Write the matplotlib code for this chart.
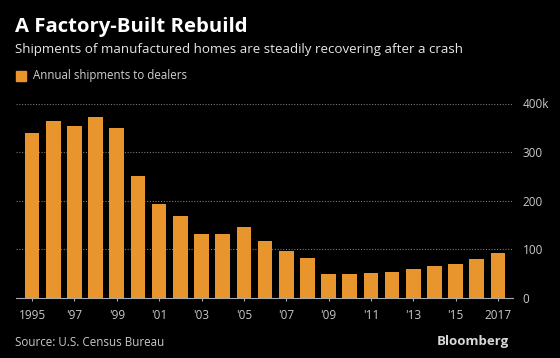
import matplotlib
matplotlib.use("Agg")
import matplotlib.pyplot as plt
from matplotlib.patches import Rectangle

years = list(range(1995, 2018))
shipments = [340, 363, 354, 373, 349, 251, 193, 169, 131, 131, 147, 118,
             96, 82, 50, 50, 52, 53, 59, 65, 70, 81, 93]
tick_years = [1995, 1997, 1999, 2001, 2003, 2005, 2007, 2009, 2011, 2013, 2015, 2017]
tick_labels = ["1995", "'97", "'99", "'01", "'03", "'05", "'07", "'09", "'11", "'13", "'15", "2017"]
y_ticks = [0, 100, 200, 300, 400]
y_labels = ["0", "100", "200", "300", "400k"]

plt.rcParams['font.family'] = ['Open Sans', 'DejaVu Sans']
BG = "black"
BAR = "#E8952E"

fig = plt.figure(figsize=(5.6, 3.58), dpi=100, facecolor=BG)
W, H = 560, 358
left, right, bottom, top = 16, 513, 298, 103.5
ax = fig.add_axes([left / W, 1 - bottom / H, (right - left) / W, (bottom - top) / H])
ax.set_facecolor(BG)

x = [y - 1995 for y in years]
ax.bar(x, shipments, width=0.69, color=BAR, zorder=2)
ax.set_xlim(-0.76, 22.71)
ax.set_ylim(0, 400)

ax.yaxis.tick_right()
ax.set_yticks(y_ticks)
ax.set_yticklabels(y_labels)
ax.tick_params(axis='y', length=0, pad=7, labelsize=8.5, labelcolor="#c8c8c8")
for v in y_ticks[1:]:
    ax.axhline(v, color="#777777", lw=0.8, ls=(0, (1, 1.5)), zorder=1)

ax.set_xticks([t - 1995 for t in tick_years])
ax.set_xticklabels(tick_labels)
ax.tick_params(axis='x', length=4, width=0.8, color="#aaaaaa", pad=6,
               labelsize=8.5, labelcolor="#c8c8c8", direction='inout')

for s in ["top", "right", "left"]:
    ax.spines[s].set_visible(False)
ax.spines["bottom"].set_color("#aaaaaa")
ax.spines["bottom"].set_linewidth(0.8)

fig.text(15 / W, 1 - 27 / H, "A Factory-Built Rebuild", color="white",
         fontsize=14.6, fontweight="bold", va="center", ha="left")
fig.text(15 / W, 1 - 50 / H, "Shipments of manufactured homes are steadily recovering after a crash",
         color="#e6e6e6", fontsize=9.6, va="center", ha="left")
fig.patches.append(Rectangle((16 / W, 1 - 81 / H), 10 / W, 10 / H, color=BAR,
                             transform=fig.transFigure, figure=fig))
fig.text(33 / W, 1 - 76 / H, "Annual shipments to dealers", color="#d0d0d0",
         fontsize=8.3, va="center", ha="left")
fig.text(15 / W, 1 - 342 / H, "Source: U.S. Census Bureau", color="#c8c8c8",
         fontsize=8.4, va="center", ha="left")
fig.text(509 / W, 1 - 342 / H, "Bloomberg", color="#d8d8d8",
         fontsize=9.5, fontweight="bold", va="center", ha="right")

fig.savefig("out.png", dpi=100, facecolor=BG)
